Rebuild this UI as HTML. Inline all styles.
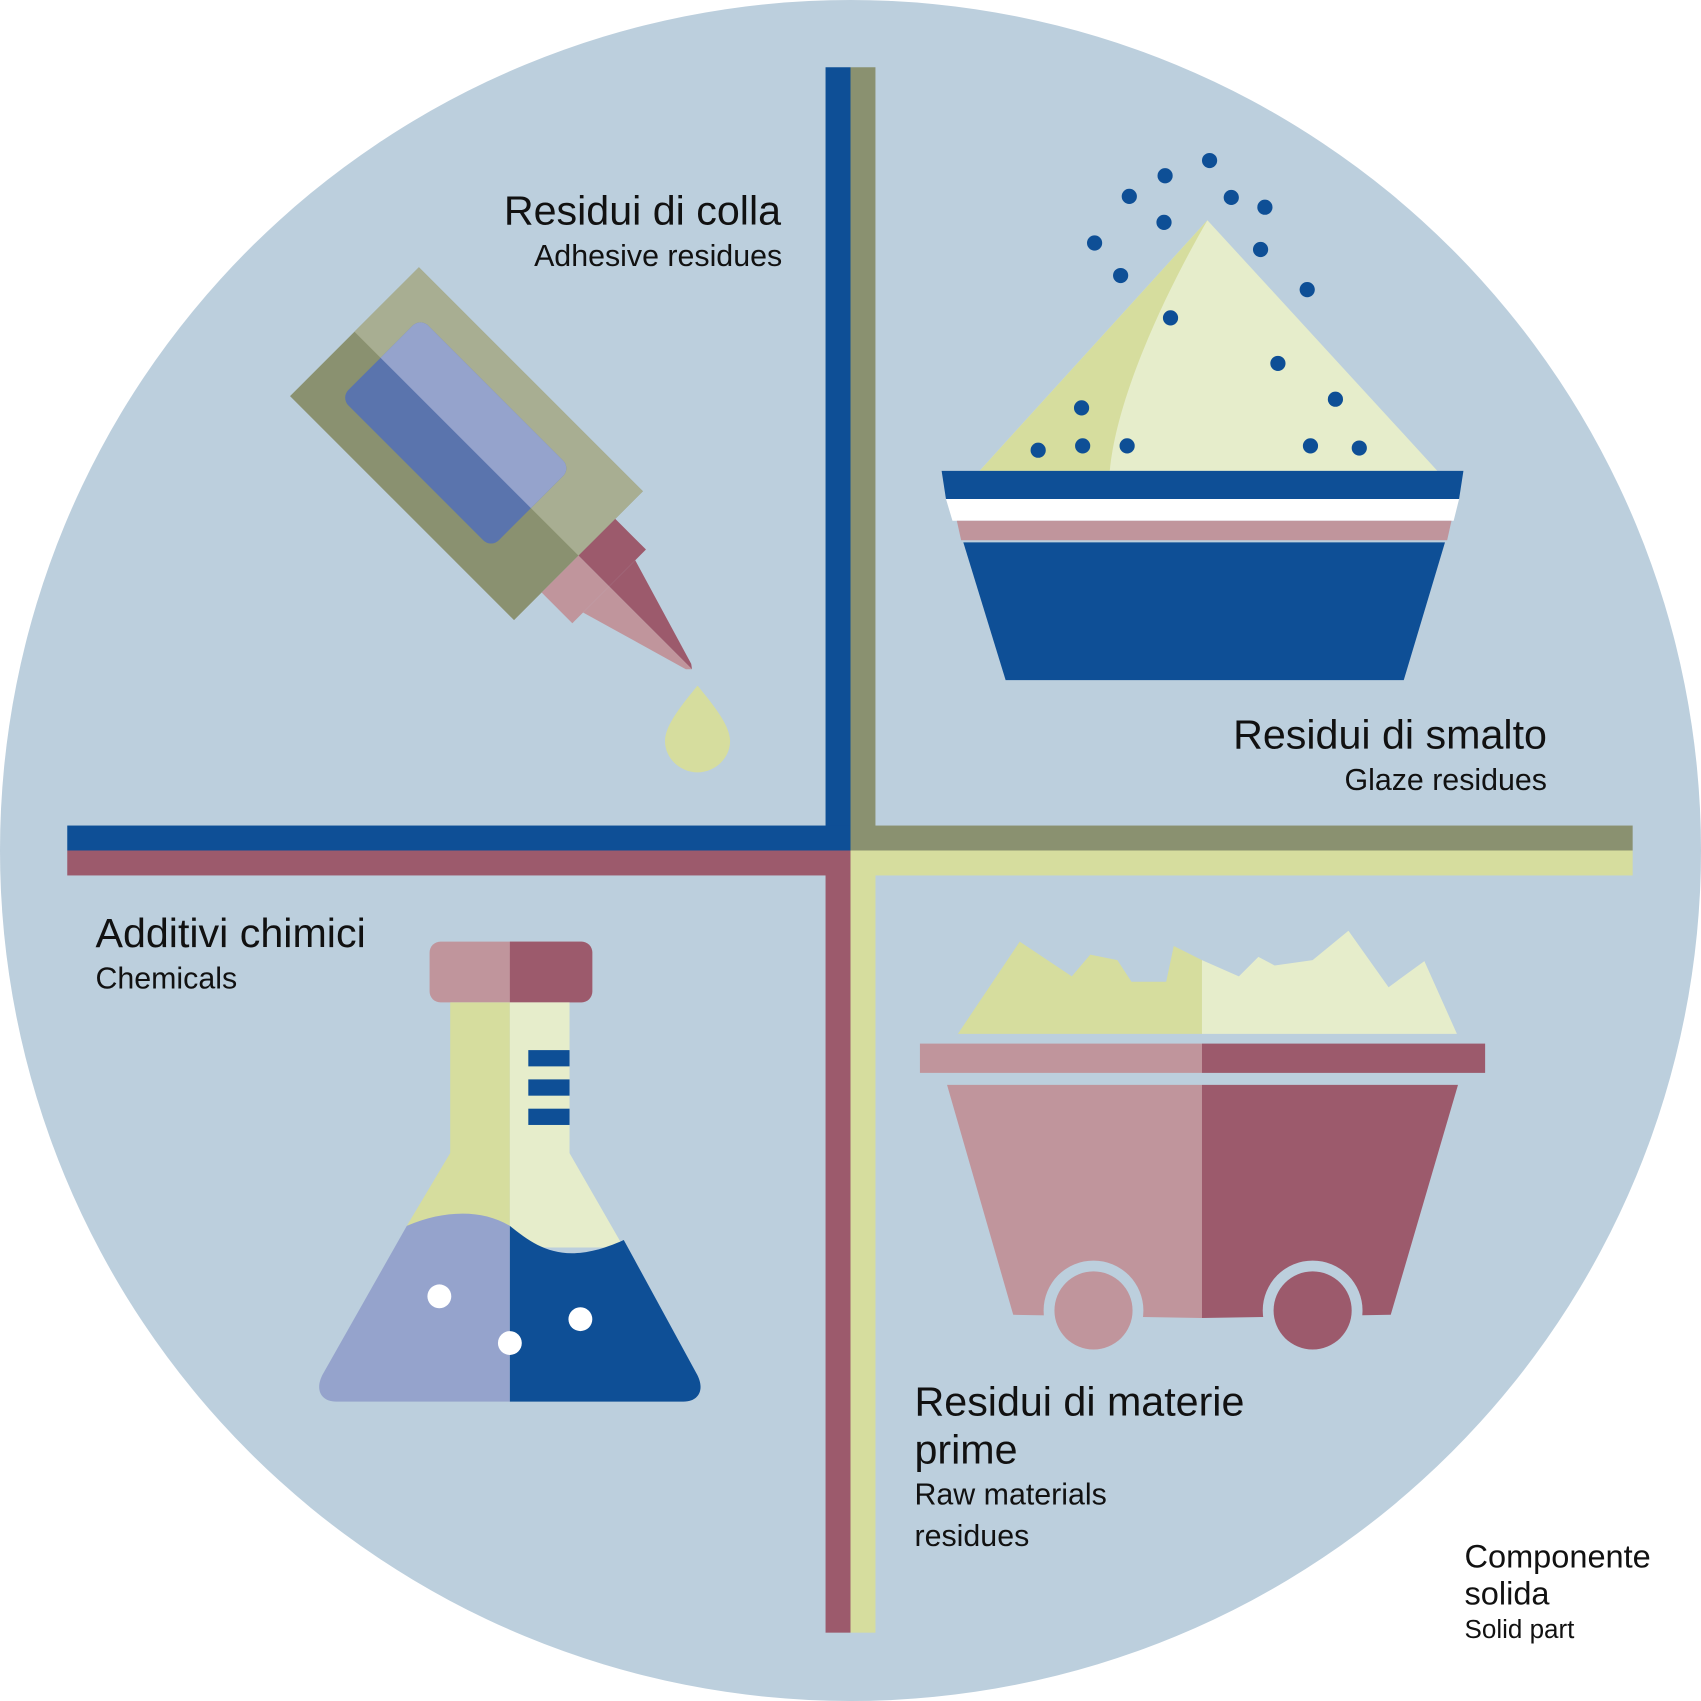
<!DOCTYPE html>
<html><head><meta charset="utf-8"><style>
html,body{margin:0;padding:0;background:#fff;width:1701px;height:1701px;overflow:hidden}
svg{display:block}
text{font-family:"Liberation Sans",sans-serif;fill:#111}
</style></head><body>
<svg width="1701" height="1701" viewBox="0 0 1568 1568" xmlns="http://www.w3.org/2000/svg">
<circle cx="784" cy="784" r="784" fill="#bccfdd"/>
<!-- cross -->
<rect x="761" y="62" width="23" height="722" fill="#0e4f96"/>
<rect x="784" y="62" width="23" height="722" fill="#8a9170"/>
<rect x="761" y="784" width="23" height="721" fill="#9c5a6c"/>
<rect x="784" y="784" width="23" height="721" fill="#d6dd9e"/>
<rect x="62" y="761" width="722" height="23" fill="#0e4f96"/>
<rect x="62" y="784" width="722" height="23" fill="#9c5a6c"/>
<rect x="784" y="761" width="721" height="23" fill="#8a9170"/>
<rect x="784" y="784" width="721" height="23" fill="#d6dd9e"/>

<!-- glue tube -->
<g transform="translate(430,409) rotate(45)">
<rect x="-146" y="-84" width="292" height="168" fill="#8a9170"/>
<rect x="-146" y="-84" width="292" height="84" fill="#a8ae92"/>
<rect x="-112" y="-52" width="196" height="104" rx="10" fill="#5a74ad"/>
<path d="M-112,-42 a10,10 0 0 1 10,-10 h176 a10,10 0 0 1 10,10 v42 h-196z" fill="#95a3cc"/>
<rect x="146" y="-48" width="40" height="48" fill="#9c5a6c"/>
<rect x="146" y="0" width="40" height="48" fill="#c0959c"/>
<polygon points="186,-34 290,-3 294,0 186,0" fill="#9c5a6c"/>
<polygon points="186,0 294,0 290,4 186,34" fill="#c0959c"/>
</g>
<path d="M643,632 C630,648 613,668 613,683 C613,700 628,712 643,712 C658,712 673,700 673,683 C673,668 656,648 643,632Z" fill="#d6dd9e"/>

<!-- bowl -->
<polygon points="903,434 1113,203 1325,434" fill="#e6edcb"/>
<path d="M903,434 L1113,203 C1080,260 1030,360 1023,434Z" fill="#d6dd9e"/>
<polygon points="868,434 1349,434 1345,460 872,460" fill="#0e4f96"/>
<polygon points="872,460 1345,460 1340,480 878,480" fill="#ffffff"/>
<polygon points="882,480 1338,480 1334,498 886,498" fill="#c0959c"/>
<polygon points="888,500 1332,500 1294,627 927,627" fill="#0e4f96"/>
<g fill="#0e4f96">
<circle cx="1115" cy="148" r="7"/><circle cx="1074" cy="162" r="7"/><circle cx="1041" cy="181" r="7"/>
<circle cx="1135" cy="182" r="7"/><circle cx="1166" cy="191" r="7"/><circle cx="1073" cy="205" r="7"/>
<circle cx="1009" cy="224" r="7"/><circle cx="1162" cy="230" r="7"/><circle cx="1033" cy="254" r="7"/>
<circle cx="1205" cy="267" r="7"/><circle cx="1079" cy="293" r="7"/><circle cx="1178" cy="335" r="7"/>
<circle cx="1231" cy="368" r="7"/><circle cx="997" cy="376" r="7"/><circle cx="957" cy="415" r="7"/>
<circle cx="998" cy="411" r="7"/><circle cx="1039" cy="411" r="7"/><circle cx="1208" cy="411" r="7"/><circle cx="1253" cy="413" r="7"/>
</g>

<!-- flask -->
<rect x="396" y="868" width="150" height="56" rx="10" fill="#c0959c"/>
<path d="M470,868 h66 a10,10 0 0 1 10,10 v36 a10,10 0 0 1 -10,10 h-66z" fill="#9c5a6c"/>
<rect x="415" y="924" width="55" height="140" fill="#d6dd9e"/>
<rect x="470" y="924" width="55" height="140" fill="#e6edcb"/>
<polygon points="415,1063 470,1063 470,1130 375,1130" fill="#d6dd9e"/>
<polygon points="470,1063 525,1063 575,1150 470,1150" fill="#e6edcb"/>
<path d="M375,1130 C410,1115 445,1115 470,1130 L470,1292 L310,1292 C295,1292 290,1280 298,1266Z" fill="#95a3cc"/>
<path d="M470,1130 C495,1150 520,1168 575,1143 L642,1266 C650,1280 645,1292 630,1292 L470,1292Z" fill="#0e4f96"/>
<g fill="#0e4f96"><rect x="487" y="968" width="38" height="15"/><rect x="487" y="995" width="38" height="15"/><rect x="487" y="1022" width="38" height="15"/></g>
<g fill="#fff"><circle cx="405" cy="1195" r="11"/><circle cx="470" cy="1238" r="11"/><circle cx="535" cy="1216" r="11"/></g>

<!-- cart -->
<polygon points="883,953 940,868 988,900 1005,880 1030,885 1043,905 1075,905 1082,872 1108,885 1108,953" fill="#d6dd9e"/>
<polygon points="1108,885 1142,900 1160,882 1175,890 1210,885 1243,858 1280,910 1313,886 1343,953 1108,953" fill="#e6edcb"/>
<rect x="848" y="962" width="260" height="27" fill="#c0959c"/>
<rect x="1108" y="962" width="261" height="27" fill="#9c5a6c"/>
<polygon points="873,1000 1108,1000 1108,1215 934,1212" fill="#c0959c"/>
<polygon points="1108,1000 1344,1000 1282,1212 1108,1215" fill="#9c5a6c"/>
<circle cx="1008" cy="1208" r="46" fill="#bccfdd"/>
<circle cx="1008" cy="1208" r="36" fill="#c0959c"/>
<circle cx="1210" cy="1208" r="46" fill="#bccfdd"/>
<circle cx="1210" cy="1208" r="36" fill="#9c5a6c"/>

<!-- labels -->
<text x="720" y="207" font-size="38" text-anchor="end">Residui di colla</text>
<text x="721" y="245" font-size="28" text-anchor="end">Adhesive residues</text>
<text x="1426" y="690" font-size="38" text-anchor="end">Residui di smalto</text>
<text x="1426" y="728" font-size="28" text-anchor="end">Glaze residues</text>
<text x="88" y="873" font-size="38">Additivi chimici</text>
<text x="88" y="911" font-size="28">Chemicals</text>
<text x="843" y="1305" font-size="38">Residui di materie</text>
<text x="843" y="1349" font-size="38">prime</text>
<text x="843" y="1387" font-size="28">Raw materials</text>
<text x="843" y="1425" font-size="28">residues</text>
<text x="1350" y="1445" font-size="30">Componente</text>
<text x="1350" y="1479" font-size="30">solida</text>
<text x="1350" y="1510" font-size="24">Solid part</text>
</svg>
</body></html>
